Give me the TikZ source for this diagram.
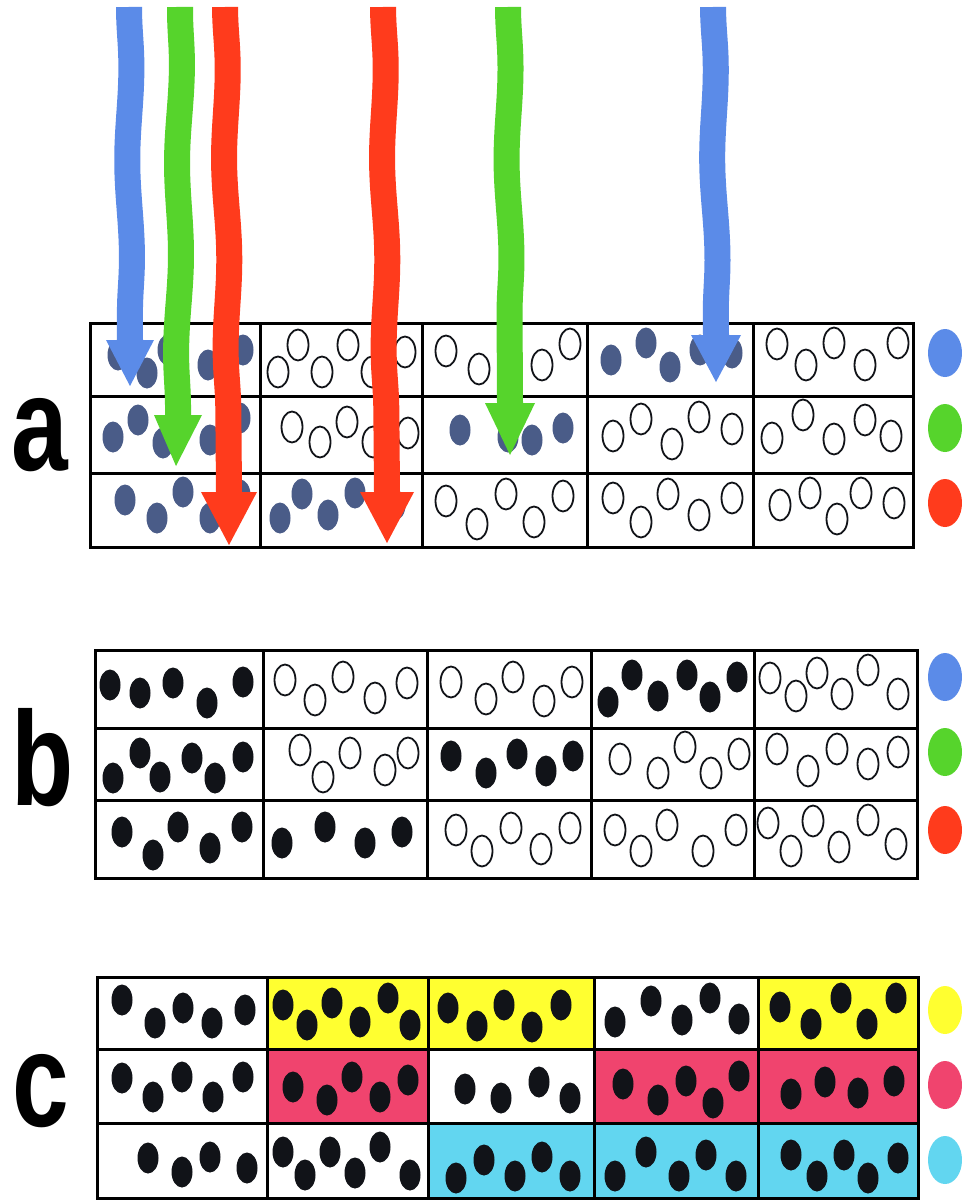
\documentclass[tikz,border=0pt]{standalone}
\usepackage{fontspec}
\newfontfamily\lblfont{Liberation Sans}
\usetikzlibrary{decorations.pathmorphing}
\definecolor{ablue}{HTML}{5B8BE8}
\definecolor{agreen}{HTML}{56D42C}
\definecolor{ared}{HTML}{FF3B1C}
\definecolor{slate}{HTML}{4A5C88}
\definecolor{cyel}{HTML}{FFFF30}
\definecolor{cpink}{HTML}{F0446E}
\definecolor{ccyan}{HTML}{62D6F0}
\definecolor{ink}{HTML}{111318}
\newcommand\putdots[2]{\foreach \px/\py in {#2} \path[#1] (\px,\py) ellipse [x radius=10.5, y radius=15.5];}
\begin{document}
\begin{tikzpicture}[x=1pt,y=-1pt,
  gridline/.style={line width=3pt, draw=black},
  adot/.style={fill=slate},
  bdot/.style={fill=ink},
  odot/.style={draw=ink, line width=1.8pt},
  shaft/.style={line width=26pt, decorate, decoration={snake, amplitude=2.2pt, segment length=190pt}},
  lbl/.style={font=\lblfont\bfseries\fontsize{134}{134}\selectfont, anchor=base west, inner sep=0pt, xscale=0.76},
  key/.style={x radius=17, y radius=24}
 ]
\useasboundingbox (0,0) rectangle (961,1201);
\fill[white] (0,0) rectangle (961,1201);

% ---------- grid a ----------
\foreach \x in {260,422,587,753} \draw[gridline] (\x,323) -- (\x,547);
\foreach \y in {396,473} \draw[gridline] (90,\y) -- (913,\y);
\draw[gridline] (90,323) rectangle (913,547);

\putdots{adot}{118/355,147/373,168/350,208/365,243/350}
\putdots{adot}{611/360,646/343,670/367,700/350,732/353}
\putdots{adot}{113/437,138/420,163/443,210/440,240/418}
\putdots{adot}{460/430,508/437,532/440,563/428}
\putdots{adot}{125/500,157/518,183/492,210/518,240/495}
\putdots{adot}{280/518,302/494,328/515,355/493,395/505}

\putdots{odot}{278/372,298/345,322/372,348/345,372/372,405/352}
\putdots{odot}{446/351,479/369,542/365,570/344}
\putdots{odot}{777/344,806/365,834/343,865/365,898/343}
\putdots{odot}{292/427,320/442,347/422,373/442,408/433}
\putdots{odot}{613/436,641/419,672/444,699/417,732/429}
\putdots{odot}{772/438,803/415,834/439,865/420,891/436}
\putdots{odot}{446/501,477/524,506/494,534/522,563/496}
\putdots{odot}{613/498,641/522,668/494,699/515,732/498}
\putdots{odot}{780/505,810/493,837/519,861/493,894/503}

% ---------- grid b ----------
\foreach \x in {263,427,591,754} \draw[gridline] (\x,650) -- (\x,878);
\foreach \y in {728,800} \draw[gridline] (95,\y) -- (917,\y);
\draw[gridline] (95,650) rectangle (917,878);

\putdots{bdot}{110/685,140/693,173/683,207/703,243/682}
\putdots{bdot}{608/702,632/675,658/696,687/675,710/697,737/677}
\putdots{bdot}{113/778,140/753,160/777,192/758,215/778,243/757}
\putdots{bdot}{451/756,486/773,517/754,546/771,573/756}
\putdots{bdot}{122/832,153/855,178/827,210/848,242/827}
\putdots{bdot}{282/843,325/827,365/843,402/832}

\putdots{odot}{285/680,315/700,343/677,375/698,407/683}
\putdots{odot}{451/682,486/699,513/677,544/701,572/682}
\putdots{odot}{770/678,796/696,817/673,842/694,868/670,898/694}
\putdots{odot}{300/750,323/777,350/753,385/770,408/753}
\putdots{odot}{620/759,658/773,685/747,711/773,739/754}
\putdots{odot}{777/749,808/771,837/749,868/764,898/752}
\putdots{odot}{456/830,482/851,511/828,541/849,570/828}
\putdots{odot}{615/830,641/851,667/825,703/851,736/830}
\putdots{odot}{768/823,791/851,813/821,839/847,868/820,896/844}

% ---------- grid c ----------
\fill[cyel] (267,977) rectangle (428,1049);
\fill[cyel] (428,977) rectangle (594,1049);
\fill[cyel] (758,977) rectangle (918,1049);
\fill[cpink] (267,1049) rectangle (428,1123);
\fill[cpink] (594,1049) rectangle (918,1123);
\fill[ccyan] (428,1123) rectangle (918,1198);
\foreach \x in {267,428,594,758} \draw[gridline] (\x,977) -- (\x,1198);
\foreach \y in {1049,1123} \draw[gridline] (97,\y) -- (918,\y);
\draw[gridline] (97,977) rectangle (918,1198);

\putdots{bdot}{122/1000,155/1023,183/1008,212/1023,245/1010}
\putdots{bdot}{283/1005,307/1025,332/1003,360/1022,388/998,410/1025}
\putdots{bdot}{448/1008,477/1026,504/1005,532/1027,561/1005}
\putdots{bdot}{615/1022,651/1001,682/1020,710/998,739/1019}
\putdots{bdot}{780/1007,811/1024,841/998,867/1024,896/998}
\putdots{bdot}{122/1078,153/1097,182/1077,213/1097,243/1077}
\putdots{bdot}{293/1087,327/1100,352/1077,380/1097,408/1080}
\putdots{bdot}{465/1089,501/1098,539/1082,570/1098}
\putdots{bdot}{623/1084,658/1100,686/1081,713/1103,739/1076}
\putdots{bdot}{791/1094,825/1082,858/1093,894/1081}
\putdots{bdot}{148/1158,182/1172,210/1157,247/1168}
\putdots{bdot}{283/1152,305/1175,330/1152,355/1173,380/1147,410/1175}
\putdots{bdot}{456/1178,484/1160,515/1176,542/1157,570/1176}
\putdots{bdot}{615/1176,646/1152,679/1176,706/1155,736/1176}
\putdots{bdot}{791/1155,817/1176,844/1155,868/1178,898/1158}

% ---------- arrows ----------
\coordinate (b1s) at (129,7);   \coordinate (b1h) at (130,340); \coordinate (b1t) at (130,386);
\coordinate (g1s) at (180,7);   \coordinate (g1h) at (178,415); \coordinate (g1t) at (176,466);
\coordinate (r1s) at (225,7);   \coordinate (r1h) at (229,492); \coordinate (r1t) at (229,545);
\coordinate (r2s) at (383,7);   \coordinate (r2h) at (387,492); \coordinate (r2t) at (387,543);
\coordinate (g2s) at (508,7);   \coordinate (g2h) at (510,403); \coordinate (g2t) at (510,455);
\coordinate (b2s) at (713,7);   \coordinate (b2h) at (716,335); \coordinate (b2t) at (716,382);

\draw[shaft, ablue]  (b1s) -- (b1h);
\fill[ablue]  ([xshift=-24pt]b1h) -- (b1t) -- ([xshift=24pt]b1h) -- cycle;
\draw[shaft, agreen] (g1s) -- (g1h);
\fill[agreen] ([xshift=-24pt]g1h) -- (g1t) -- ([xshift=24pt]g1h) -- cycle;
\draw[shaft, ared]   (r1s) -- (r1h);
\fill[ared]   ([xshift=-28pt]r1h) -- (r1t) -- ([xshift=28pt]r1h) -- cycle;
\draw[shaft, ared]   (r2s) -- (r2h);
\fill[ared]   ([xshift=-27pt]r2h) -- (r2t) -- ([xshift=27pt]r2h) -- cycle;
\draw[shaft, agreen] (g2s) -- (g2h);
\fill[agreen] ([xshift=-25pt]g2h) -- (g2t) -- ([xshift=25pt]g2h) -- cycle;
\draw[shaft, ablue]  (b2s) -- (b2h);
\fill[ablue]  ([xshift=-25pt]b2h) -- (b2t) -- ([xshift=25pt]b2h) -- cycle;

% ---------- key ellipses ----------
\fill[ablue]  (945,353) ellipse [key];
\fill[agreen] (945,428) ellipse [key];
\fill[ared]   (945,503) ellipse [key];
\fill[ablue]  (945,677) ellipse [key];
\fill[agreen] (945,752) ellipse [key];
\fill[ared]   (945,830) ellipse [key];
\fill[cyel]   (945,1010) ellipse [key];
\fill[cpink]  (945,1085) ellipse [key];
\fill[ccyan]  (945,1160) ellipse [key];

% ---------- labels ----------
\node[lbl] (la) at (11,470) {a};
\node[lbl] (lb) at (11,805) {b};
\node[lbl] (lc) at (12,1126) {c};
\end{tikzpicture}
\end{document}
